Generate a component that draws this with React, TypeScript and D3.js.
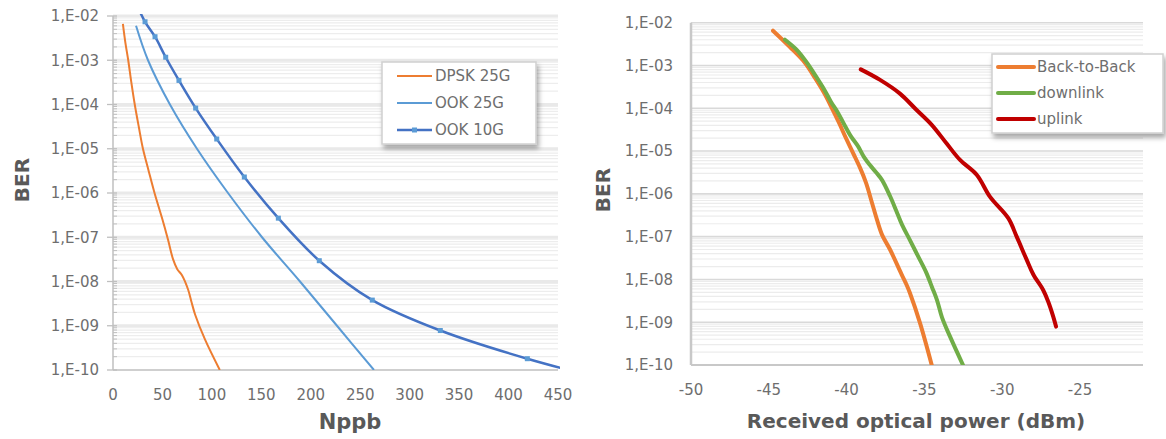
import React from "react";
import * as d3 from "d3";

// ---------- Left chart data (Nppb vs BER) ----------
const dpskX = [10, 12.5, 15.4, 18.5, 22, 26, 30.3, 36, 42, 49.5, 55.6, 60.7, 65, 69.6, 76, 79.6, 83, 93, 108];
const dpskBer = [6.6e-3, 2.5e-3, 1e-3, 3.2e-4, 1e-4, 3.2e-5, 1e-5, 3.2e-6, 1e-6, 2.75e-7, 8.9e-8, 3.2e-8, 1.9e-8, 1.4e-8, 6.5e-9, 3.3e-9, 1.8e-9, 4.9e-10, 1e-10];
const ook25X = [23.3, 35.4, 57.6, 84.9, 116.3, 150.7, 189.1, 226.5, 263.9];
const ook25Ber = [6e-3, 1e-3, 1e-4, 1e-5, 1e-6, 1e-7, 1e-8, 1e-9, 1e-10];
const ook10X = [23.5, 32.4, 42.5, 53.3, 66.7, 83.6, 104.9, 132.8, 167.2, 208.6, 262.2, 331, 419, 531];
const ook10Ber = [1.9e-2, 7.4e-3, 3.4e-3, 1.17e-3, 3.5e-4, 8.3e-5, 1.66e-5, 2.3e-6, 2.7e-7, 2.95e-8, 3.8e-9, 7.8e-10, 1.8e-10, 4e-11];
const leftXTicks = [0, 50, 100, 150, 200, 250, 300, 350, 400, 450];
const leftSeriesNames = ["DPSK 25G", "OOK 25G", "OOK 10G"];

// ---------- Right chart data (received power vs BER) ----------
const b2bX = [-44.73, -43.64, -42.67, -42.03, -41.45, -40.94, -40.49, -40.04, -39.59, -39.14, -38.75, -38.37, -38.05, -37.72, -37.21, -36.46, -36.14, -35.93, -35.28, -34.53];
const b2bBer = [6.5e-3, 2.7e-3, 1.15e-3, 5.1e-4, 2.3e-4, 1.0e-4, 4.6e-5, 2.0e-5, 9.1e-6, 4.1e-6, 1.8e-6, 6.2e-7, 2.5e-7, 1.1e-7, 5.0e-8, 1.3e-8, 7.4e-9, 4.8e-9, 9.5e-10, 1.0e-10];
const downX = [-43.96, -43.19, -42.54, -41.97, -41.45, -41.0, -40.55, -40.17, -39.72, -39.27, -38.88, -38.5, -38.11, -37.72, -37.21, -36.83, -36.44, -35.93, -35.41, -34.9, -34.51, -34.19, -33.87, -33.35, -32.52];
const downBer = [4.0e-3, 2.3e-3, 1.15e-3, 5.6e-4, 2.8e-4, 1.4e-4, 7.8e-5, 4.3e-5, 2.2e-5, 1.3e-5, 7.2e-6, 4.7e-6, 3.2e-6, 2.1e-6, 8.9e-7, 4.2e-7, 1.9e-7, 8.3e-8, 3.5e-8, 1.5e-8, 6.6e-9, 3.3e-9, 1.3e-9, 4.6e-10, 1.0e-10];
const upX = [-39.09, -37.85, -36.57, -35.5, -34.53, -33.57, -32.71, -31.64, -30.78, -29.61, -29.07, -28.43, -28.0, -27.36, -27.04, -26.72, -26.54];
const upBer = [8.1e-4, 4.6e-4, 2.2e-4, 9.1e-5, 4.1e-5, 1.5e-5, 6.2e-6, 2.8e-6, 8.5e-7, 2.7e-7, 1.0e-7, 2.9e-8, 1.3e-8, 5.6e-9, 3.0e-9, 1.35e-9, 7.9e-10];
const rightXTicks = [-50, -45, -40, -35, -30, -25];
const rightSeriesNames = ["Back-to-Back", "downlink", "uplink"];

const yDecades = [1e-2, 1e-3, 1e-4, 1e-5, 1e-6, 1e-7, 1e-8, 1e-9, 1e-10];
const yTickLabels = ["1,E-02", "1,E-03", "1,E-04", "1,E-05", "1,E-06", "1,E-07", "1,E-08", "1,E-09", "1,E-10"];

const FONT = "'DejaVu Sans', sans-serif";
const TICK_COLOR = "#6e6e6e";
const TITLE_COLOR = "#595959";

const zip = (xs: number[], ys: number[]) => xs.map((x, i) => [x, ys[i]] as [number, number]);

function minorValues() {
  const out: number[] = [];
  for (let e = -10; e < -2; e++) {
    for (let m = 2; m <= 9; m++) out.push(m * Math.pow(10, e));
  }
  return out;
}

function LeftChart() {
  const x0 = 113, x1 = 558, y0 = 16, y1 = 370;
  const x = d3.scaleLinear().domain([0, 450]).range([x0, x1]);
  const y = d3.scaleLog().domain([1e-2, 1e-10]).range([y0, y1]);
  const line = d3
    .line<[number, number]>()
    .x((d) => x(d[0]))
    .y((d) => y(d[1]))
    .curve(d3.curveCatmullRom.alpha(0.5));
  const minors = minorValues();
  const series = [
    { name: leftSeriesNames[0], data: zip(dpskX, dpskBer), color: "#ED7D31", w: 2 },
    { name: leftSeriesNames[1], data: zip(ook25X, ook25Ber), color: "#5B9BD5", w: 2 },
    { name: leftSeriesNames[2], data: zip(ook10X, ook10Ber), color: "#4472C4", w: 2.5, marker: true },
  ];
  return (
    <g>
      <defs>
        <clipPath id="clipL">
          <rect x={x0} y={y0 - 2} width={x1 - x0 + 2} height={y1 - y0 + 2} />
        </clipPath>
      </defs>
      {minors.map((v, i) => (
        <line key={"m" + i} x1={x0} x2={x1} y1={y(v)} y2={y(v)} stroke="#ededed" strokeWidth={1.2} />
      ))}
      {yDecades.slice(0, -1).map((v, i) => (
        <line key={"M" + i} x1={x0} x2={x1} y1={y(v)} y2={y(v)} stroke="#e9e9e9" strokeWidth={3} />
      ))}
      {minors.map((v, i) => (
        <line key={"mt" + i} x1={x0} x2={x0 + 4} y1={y(v)} y2={y(v)} stroke="#bfbfbf" strokeWidth={1} />
      ))}
      {yDecades.map((v, i) => (
        <line key={"Mt" + i} x1={x0 - 6} x2={x0 + 4} y1={y(v)} y2={y(v)} stroke="#bfbfbf" strokeWidth={1.3} />
      ))}
      <line x1={x0} x2={x0} y1={y0} y2={y1} stroke="#bfbfbf" strokeWidth={1.5} />
      <line x1={x0} x2={x1} y1={y1} y2={y1} stroke="#bfbfbf" strokeWidth={1.5} />
      <g clipPath="url(#clipL)">
        {series.map((s) => (
          <path key={s.name} d={line(s.data) || ""} fill="none" stroke={s.color} strokeWidth={s.w} />
        ))}
        {series[2].data.map((d, i) => (
          <rect key={"mk" + i} x={x(d[0]) - 2.5} y={y(d[1]) - 2.5} width={5} height={5} fill="#5B9BD5" />
        ))}
      </g>
      {yDecades.map((v, i) => (
        <text key={"yl" + i} x={99} y={y(v)} dy="0.36em" textAnchor="end" fontFamily={FONT} fontSize={15} fill={TICK_COLOR}>
          {yTickLabels[i]}
        </text>
      ))}
      {leftXTicks.map((t) => (
        <text key={"xl" + t} x={x(t)} y={395} dy="0.36em" textAnchor="middle" fontFamily={FONT} fontSize={15} fill={TICK_COLOR}>
          {t}
        </text>
      ))}
      <text x={350} y={429} textAnchor="middle" fontFamily={FONT} fontSize={21} fontWeight="bold" fill={TITLE_COLOR}>
        Nppb
      </text>
      <text transform="translate(29,180) rotate(-90)" textAnchor="middle" fontFamily={FONT} fontSize={20} fontWeight="bold" fill={TITLE_COLOR}>
        BER
      </text>
      {/* legend */}
      <rect x={382} y={62} width={154} height={82} fill="#fff" stroke="#d0d0d0" strokeWidth={1.5} filter="url(#shadow)" />
      {series.map((s, i) => {
        const ly = 76 + i * 27;
        return (
          <g key={"lg" + i}>
            <line x1={397} x2={432} y1={ly} y2={ly} stroke={s.color} strokeWidth={s.w} />
            {s.marker && <rect x={412} y={ly - 2.5} width={5} height={5} fill="#5B9BD5" />}
            <text x={435} y={ly} dy="0.36em" fontFamily={FONT} fontSize={15} fill={TICK_COLOR}>
              {s.name}
            </text>
          </g>
        );
      })}
    </g>
  );
}

function RightChart() {
  const x0 = 691, x1 = 1143, y0 = 22.7, y1 = 365;
  const x = d3.scaleLinear().domain([-50, -25]).range([691, 1080]);
  const y = d3.scaleLog().domain([1e-2, 1e-10]).range([y0, y1]);
  const line = d3
    .line<[number, number]>()
    .x((d) => x(d[0]))
    .y((d) => y(d[1]))
    .curve(d3.curveCatmullRom.alpha(0.5));
  const minors = minorValues();
  const series = [
    { name: rightSeriesNames[0], data: zip(b2bX, b2bBer), color: "#ED7D31" },
    { name: rightSeriesNames[1], data: zip(downX, downBer), color: "#70AD47" },
    { name: rightSeriesNames[2], data: zip(upX, upBer), color: "#C00000" },
  ];
  return (
    <g>
      <defs>
        <clipPath id="clipR">
          <rect x={x0} y={y0 - 3} width={x1 - x0} height={y1 - y0 + 3} />
        </clipPath>
      </defs>
      {minors.map((v, i) => (
        <line key={"m" + i} x1={x0} x2={x1} y1={y(v)} y2={y(v)} stroke="#ececec" strokeWidth={1.2} />
      ))}
      {yDecades.slice(0, -1).map((v, i) => (
        <line key={"M" + i} x1={x0} x2={x1} y1={y(v)} y2={y(v)} stroke="#d9d9d9" strokeWidth={1.6} />
      ))}
      <line x1={x0} x2={x0} y1={y0} y2={y1} stroke="#c8c8c8" strokeWidth={2.5} />
      <line x1={x0} x2={x1} y1={y1} y2={y1} stroke="#c8c8c8" strokeWidth={2} />
      <g clipPath="url(#clipR)">
        {series.map((s) => (
          <path key={s.name} d={line(s.data) || ""} fill="none" stroke={s.color} strokeWidth={4} strokeLinecap="round" strokeLinejoin="round" />
        ))}
      </g>
      {yDecades.map((v, i) => (
        <text key={"yl" + i} x={673} y={y(v)} dy="0.36em" textAnchor="end" fontFamily={FONT} fontSize={15} fill={TICK_COLOR}>
          {yTickLabels[i]}
        </text>
      ))}
      {rightXTicks.map((t) => (
        <text key={"xl" + t} x={x(t)} y={390} dy="0.36em" textAnchor="middle" fontFamily={FONT} fontSize={15} fill={TICK_COLOR}>
          {t}
        </text>
      ))}
      <text x={916} y={428} textAnchor="middle" fontFamily={FONT} fontSize={20} fontWeight="bold" fill={TITLE_COLOR}>
        Received optical power (dBm)
      </text>
      <text transform="translate(610,190) rotate(-90)" textAnchor="middle" fontFamily={FONT} fontSize={20} fontWeight="bold" fill={TITLE_COLOR}>
        BER
      </text>
      <rect x={992} y={54} width={171} height={79} fill="#fff" stroke="#d0d0d0" strokeWidth={1.5} filter="url(#shadow)" />
      {series.map((s, i) => {
        const ly = 67 + i * 26;
        return (
          <g key={"lg" + i}>
            <line x1={998} x2={1034} y1={ly} y2={ly} stroke={s.color} strokeWidth={4} strokeLinecap="round" />
            <text x={1037} y={ly} dy="0.36em" fontFamily={FONT} fontSize={15} fill={TICK_COLOR}>
              {s.name}
            </text>
          </g>
        );
      })}
    </g>
  );
}

export default function App() {
  return (
    <svg width={1166} height={439} style={{ position: "absolute", left: 0, top: 0, background: "#fff" }}>
      <defs>
        <filter id="shadow" x="-20%" y="-20%" width="150%" height="160%">
          <feDropShadow dx="2" dy="4" stdDeviation="2.5" floodColor="#000" floodOpacity="0.35" />
        </filter>
      </defs>
      <rect x={0} y={0} width={1166} height={439} fill="#fff" />
      <LeftChart />
      <RightChart />
    </svg>
  );
}
